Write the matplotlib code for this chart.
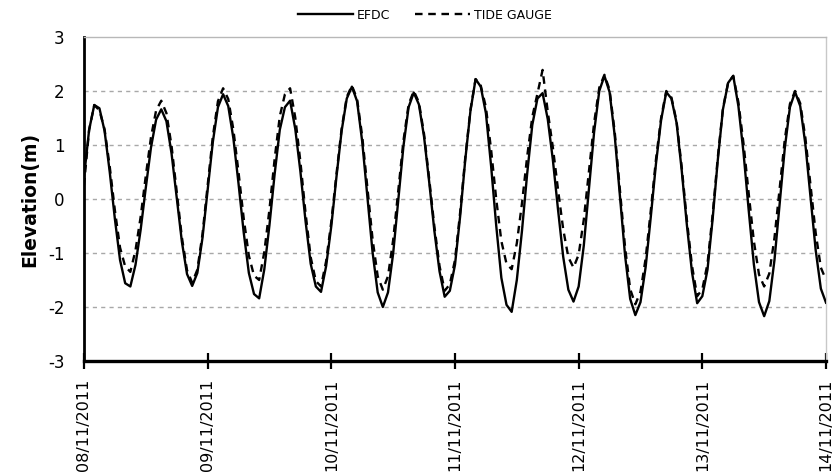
import numpy as np
import pandas as pd
import matplotlib
matplotlib.use("Agg")
import matplotlib.pyplot as plt
import matplotlib.dates as mdates

plt.rcParams["axes.unicode_minus"] = False

# Hourly water level (m), 08/11/2011 00:00 -> 14/11/2011 00:00
START = "2011-11-08 00:00"

efdc = [
    0.40, 1.28, 1.74, 1.68, 1.26, 0.50, -0.37, -1.13, -1.56, -1.62,
    -1.22, -0.57, 0.21, 0.95, 1.47, 1.66, 1.44, 0.84, 0.03, -0.79,
    -1.39, -1.61, -1.37, -0.72, 0.17, 1.05, 1.70, 1.94, 1.72, 1.12,
    0.28, -0.62, -1.37, -1.76, -1.84, -1.30, -0.48, 0.46, 1.28, 1.70,
    1.82, 1.30, 0.51, -0.41, -1.20, -1.62, -1.72, -1.24, -0.50, 0.41,
    1.26, 1.86, 2.08, 1.81, 1.06, 0.04, -0.98, -1.73, -2.00, -1.73,
    -1.01, -0.02, 0.98, 1.70, 1.97, 1.75, 1.15, 0.31, -0.59, -1.34,
    -1.81, -1.70, -1.22, -0.32, 0.73, 1.63, 2.22, 2.08, 1.59, 0.62,
    -0.49, -1.46, -1.96, -2.09, -1.50, -0.59, 0.46, 1.37, 1.86, 1.96,
    1.48, 0.72, -0.20, -1.07, -1.68, -1.90, -1.62, -0.86, 0.19, 1.24,
    2.00, 2.28, 1.98, 1.17, 0.07, -1.04, -1.85, -2.15, -1.91, -1.26,
    -0.33, 0.65, 1.46, 1.98, 1.86, 1.41, 0.53, -0.48, -1.36, -1.93,
    -1.80, -1.31, -0.37, 0.72, 1.66, 2.15, 2.28, 1.72, 0.85, -0.21,
    -1.21, -1.91, -2.17, -1.89, -1.13, -0.10, 0.94, 1.70, 1.98, 1.72,
    1.01, 0.03, -0.95, -1.66, -1.92,
]

tide_gauge = [
    0.25, 1.28, 1.74, 1.64, 1.29, 0.60, -0.21, -0.90, -1.25, -1.35,
    -0.95, -0.33, 0.43, 1.14, 1.64, 1.82, 1.59, 0.98, 0.14, -0.71,
    -1.32, -1.55, -1.31, -0.65, 0.25, 1.15, 1.81, 2.05, 1.85, 1.28,
    0.49, -0.36, -1.05, -1.42, -1.50, -0.98, -0.19, 0.74, 1.53, 1.94,
    2.05, 1.51, 0.69, -0.26, -1.08, -1.52, -1.62, -1.15, -0.42, 0.46,
    1.30, 1.89, 2.10, 1.85, 1.16, 0.21, -0.74, -1.43, -1.68, -1.43,
    -0.76, 0.16, 1.08, 1.75, 2.00, 1.79, 1.20, 0.37, -0.51, -1.24,
    -1.70, -1.58, -1.13, -0.25, 0.77, 1.65, 2.22, 2.10, 1.70, 0.92,
    0.00, -0.78, -1.20, -1.30, -0.82, -0.08, 0.78, 1.52, 1.95, 2.39,
    1.62, 0.95, 0.17, -0.56, -1.08, -1.27, -1.03, -0.38, 0.52, 1.41,
    2.06, 2.30, 2.02, 1.24, 0.18, -0.89, -1.67, -1.95, -1.72, -1.10,
    -0.21, 0.73, 1.50, 2.00, 1.88, 1.44, 0.59, -0.39, -1.24, -1.80,
    -1.67, -1.20, -0.29, 0.77, 1.68, 2.15, 2.28, 1.79, 1.02, 0.10,
    -0.78, -1.40, -1.62, -1.38, -0.72, 0.19, 1.10, 1.76, 2.00, 1.77,
    1.13, 0.25, -0.63, -1.27, -1.50,
]

y_ticks = [-3, -2, -1, 0, 1, 2, 3]

times = pd.date_range(START, periods=len(efdc), freq="h")

fig = plt.figure(figsize=(8.33, 4.74), dpi=100)
ax = fig.add_axes([0.1008, 0.2384, 0.8908, 0.6836])

ax.plot(times, efdc, color="black", lw=1.7, ls="-", label="EFDC",
        solid_joinstyle="round", zorder=3)
ax.plot(times, tide_gauge, color="black", lw=1.7, ls=(0, (3.2, 2.4)),
        label="TIDE GAUGE", dash_joinstyle="round", zorder=4)

ax.set_xlim(times[0], times[-1])
ax.set_ylim(-3, 3)
ax.set_yticks(y_ticks)

# dashed horizontal guides, solid line along the top
for y in y_ticks[1:-1]:
    ax.axhline(y, color="#a8a8a8", lw=1.0, ls=(0, (3, 3)), zorder=1)
ax.spines["top"].set_color("#b8b8b8")
ax.spines["top"].set_linewidth(1.0)
ax.spines["right"].set_color("#c8c8c8")
ax.spines["right"].set_linewidth(1.0)
ax.spines["left"].set_linewidth(2.0)
ax.spines["bottom"].set_linewidth(2.4)

ax.xaxis.set_major_locator(mdates.DayLocator())
ax.xaxis.set_major_formatter(mdates.DateFormatter("%d/%m/%Y"))
ax.tick_params(axis="x", direction="inout", length=11, width=1.6,
               labelsize=11.5, labelrotation=90, pad=7)
ax.tick_params(axis="y", length=0, labelsize=12, pad=14)

ax.set_ylabel("Elevation(m)", fontsize=13.5, fontweight="bold", labelpad=6)

fig.legend(loc="center", bbox_to_anchor=(0.51, 0.968), ncol=2, frameon=False,
           fontsize=9, handlelength=4.4, handletextpad=0.3,
           columnspacing=2.0)

fig.savefig("out.png", dpi=100)
